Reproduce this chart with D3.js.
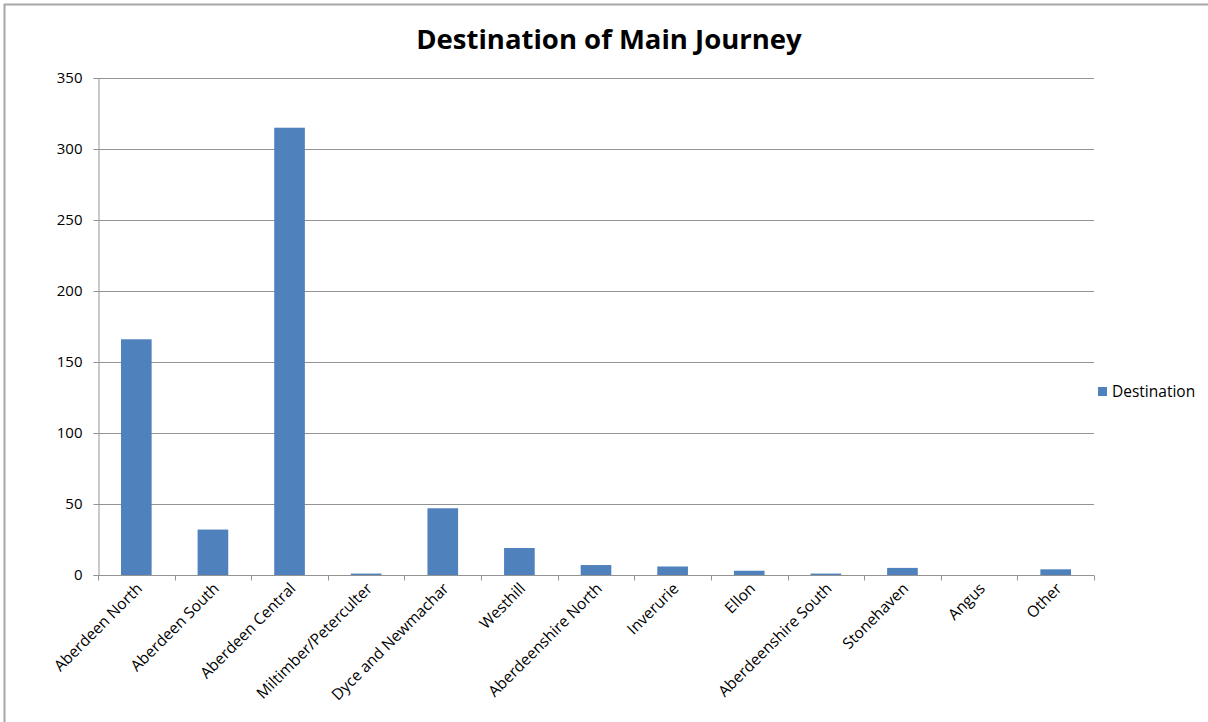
<!DOCTYPE html>
<html>
<head>
<meta charset="utf-8">
<script src="https://cdn.jsdelivr.net/npm/d3@7"></script>
<style>
  html, body { margin: 0; padding: 0; background: #fff; }
  svg { display: block; }
  text { font-family: "Open Sans", "Liberation Sans", sans-serif; fill: #000; }
</style>
</head>
<body>
<svg id="chart" width="1208" height="722"></svg>
<script>
const categories = ["Aberdeen North", "Aberdeen South", "Aberdeen Central", "Miltimber/Peterculter",
  "Dyce and Newmachar", "Westhill", "Aberdeenshire North", "Inverurie", "Ellon",
  "Aberdeenshire South", "Stonehaven", "Angus", "Other"];
const values = [166, 32, 315, 1, 47, 19, 7, 6, 3, 1, 5, 0, 4];
const yTicks = [0, 50, 100, 150, 200, 250, 300, 350];
const seriesName = "Destination";
const title = "Destination of Main Journey";

const svg = d3.select("#chart");
const W = 1208, H = 722;
const pLeft = 98, pRight = 1094, pTop = 78, pBottom = 575;
const gridColor = "#939393";

// outer frame (top and left edges visible)
svg.append("line").attr("x1", 4).attr("x2", W).attr("y1", 4.5).attr("y2", 4.5)
  .attr("stroke", "#a6a6a6").attr("stroke-width", 2);
svg.append("line").attr("x1", 4.5).attr("x2", 4.5).attr("y1", 4).attr("y2", H)
  .attr("stroke", "#a6a6a6").attr("stroke-width", 2);

const x = d3.scaleBand().domain(categories).range([pLeft, pRight]).paddingInner(0.6).paddingOuter(0.3);
const xb = d3.scaleBand().domain(categories).range([pLeft, pRight]);
const y = d3.scaleLinear().domain([0, 350]).range([pBottom, pTop]);

// gridlines
svg.append("g").selectAll("line").data(yTicks.filter(d => d > 0)).join("line")
  .attr("x1", pLeft).attr("x2", pRight)
  .attr("y1", d => Math.round(y(d)) + 0.5).attr("y2", d => Math.round(y(d)) + 0.5)
  .attr("stroke", gridColor).attr("stroke-width", 1);

// y axis
const yAxis = svg.append("g").attr("transform", `translate(${pLeft + 0.5},0)`)
  .call(d3.axisLeft(y).tickValues(yTicks).tickSize(5).tickPadding(11));
yAxis.select(".domain").attr("stroke", gridColor);
yAxis.selectAll(".tick line").attr("stroke", gridColor);
yAxis.selectAll(".tick").attr("transform", d => `translate(0,${Math.round(y(d)) + 0.5})`);
yAxis.selectAll("text").attr("font-size", 15).attr("font-family", "'Open Sans', sans-serif").attr("fill", "#000");

// bars
svg.append("g").selectAll("rect").data(categories).join("rect")
  .attr("x", d => x(d))
  .attr("width", x.bandwidth())
  .attr("y", (d, i) => y(values[i]))
  .attr("height", (d, i) => pBottom - y(values[i]))
  .attr("fill", "#4f81bd");

// x axis
const xAxisG = svg.append("g").attr("transform", `translate(0,${pBottom + 0.5})`);
xAxisG.append("line").attr("x1", pLeft).attr("x2", pRight).attr("stroke", gridColor);
const bounds = categories.map(c => xb(c)).concat([pRight]);
xAxisG.selectAll("line.tick").data(bounds).join("line").attr("class", "tick")
  .attr("x1", d => Math.round(d) + 0.5).attr("x2", d => Math.round(d) + 0.5)
  .attr("y1", 0).attr("y2", 5).attr("stroke", gridColor);
xAxisG.selectAll("text").data(categories).join("text")
  .attr("transform", d => `translate(${xb(d) + xb.bandwidth() / 2 + 7},${14}) rotate(-45)`)
  .attr("text-anchor", "end")
  .attr("font-size", 15.5)
  .text(d => d);

// title
svg.append("text").attr("x", 609).attr("y", 49).attr("text-anchor", "middle")
  .attr("font-size", 27.5).attr("font-weight", "bold").text(title);

// legend
svg.append("rect").attr("x", 1098).attr("y", 387).attr("width", 9).attr("height", 9).attr("fill", "#4f81bd");
svg.append("text").attr("x", 1112).attr("y", 397).attr("font-size", 15.5).text(seriesName);
</script>
</body>
</html>
